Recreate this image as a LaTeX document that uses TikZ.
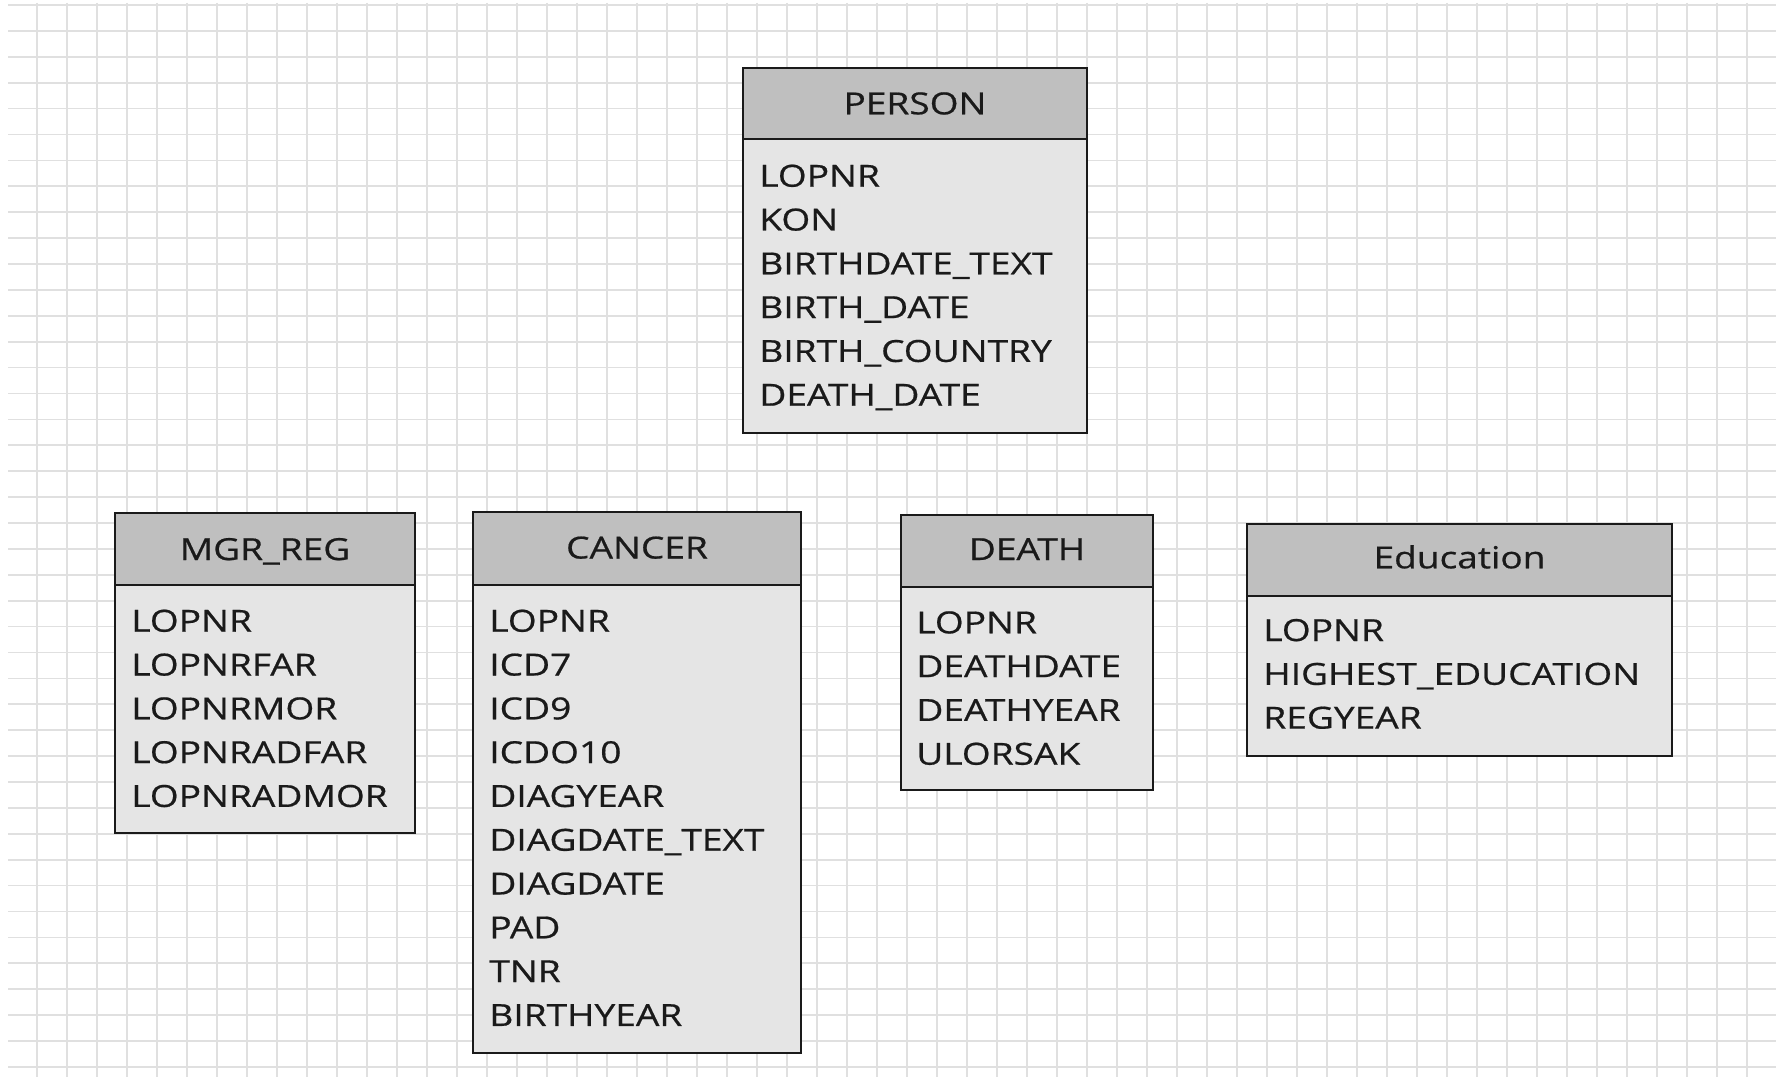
\documentclass[tikz,border=0pt]{standalone}
\usepackage{fontspec}
\setmainfont{Open Sans}[FakeStretch=1.22, FakeBold=0.6]
\definecolor{gridgray}{HTML}{E0E0E0}
\definecolor{headgray}{HTML}{BFBFBF}
\definecolor{bodygray}{HTML}{E5E5E5}
\definecolor{inkdark}{HTML}{1A1A1A}

\begin{document}
\begin{tikzpicture}[
    x=0.02cm, y=-0.02cm,
    gridline/.style={line width=1pt, gridgray},
    tablehead/.style={fill=headgray, draw=inkdark, line width=1.6pt},
    tablebody/.style={fill=bodygray, draw=inkdark, line width=1.6pt},
    headlabel/.style={anchor=base, inner sep=0pt, text=inkdark, font=\fontsize{17.3}{20}\selectfont},
    fieldlabel/.style={anchor=base west, inner sep=0pt, text=inkdark, font=\fontsize{17.3}{20}\selectfont}
]

\pgfmathsetmacro{\RowSep}{43.8}

\useasboundingbox (0,0) rectangle (1787,1077);
\fill[white] (0,0) rectangle (1787,1077);

% Grid
\foreach \k in {0,...,57}
    \draw[gridline] ({36.7+30*\k},3) -- ({36.7+30*\k},1077);
\foreach \k in {0,...,41}
    \draw[gridline] (8,{5+25.9*\k}) -- (1776,{5+25.9*\k});

% PERSON
\filldraw[tablehead] (743,68) rectangle (1087,139);
\filldraw[tablebody] (743,139) rectangle (1087,433);
\node[headlabel] (person) at (915,114.3) {PERSON};
\foreach \f [count=\i from 0] in {LOPNR,KON,BIRTHDATE\_TEXT,BIRTH\_DATE,BIRTH\_COUNTRY,DEATH\_DATE}
    \node[fieldlabel] (person-\i) at (759,{186.7+\RowSep*\i}) {\f};

% MGR_REG
\filldraw[tablehead] (115,513) rectangle (415,585);
\filldraw[tablebody] (115,585) rectangle (415,833);
\node[headlabel] (mgrreg) at (265,560) {MGR\_REG};
\foreach \f [count=\i from 0] in {LOPNR,LOPNRFAR,LOPNRMOR,LOPNRADFAR,LOPNRADMOR}
    \node[fieldlabel] (mgrreg-\i) at (131,{631.7+\RowSep*\i}) {\f};

% CANCER
\filldraw[tablehead] (473,512) rectangle (801,585);
\filldraw[tablebody] (473,585) rectangle (801,1053);
\node[headlabel] (cancer) at (637,558.5) {CANCER};
\foreach \f [count=\i from 0] in {LOPNR,ICD7,ICD9,ICDO10,DIAGYEAR,DIAGDATE\_TEXT,DIAGDATE,PAD,TNR,BIRTHYEAR}
    \node[fieldlabel] (cancer-\i) at (489,{631.7+\RowSep*\i}) {\f};

% DEATH
\filldraw[tablehead] (901,515) rectangle (1153,587);
\filldraw[tablebody] (901,587) rectangle (1153,790);
\node[headlabel] (death) at (1027,560) {DEATH};
\foreach \f [count=\i from 0] in {LOPNR,DEATHDATE,DEATHYEAR,ULORSAK}
    \node[fieldlabel] (death-\i) at (916,{633.3+\RowSep*\i}) {\f};

% Education
\filldraw[tablehead] (1247,524) rectangle (1672,596);
\filldraw[tablebody] (1247,596) rectangle (1672,756);
\node[headlabel] (education) at (1459.5,568.3) {Education};
\foreach \f [count=\i from 0] in {LOPNR,HIGHEST\_EDUCATION,REGYEAR}
    \node[fieldlabel] (education-\i) at (1263,{641+\RowSep*\i}) {\f};

\end{tikzpicture}
\end{document}
